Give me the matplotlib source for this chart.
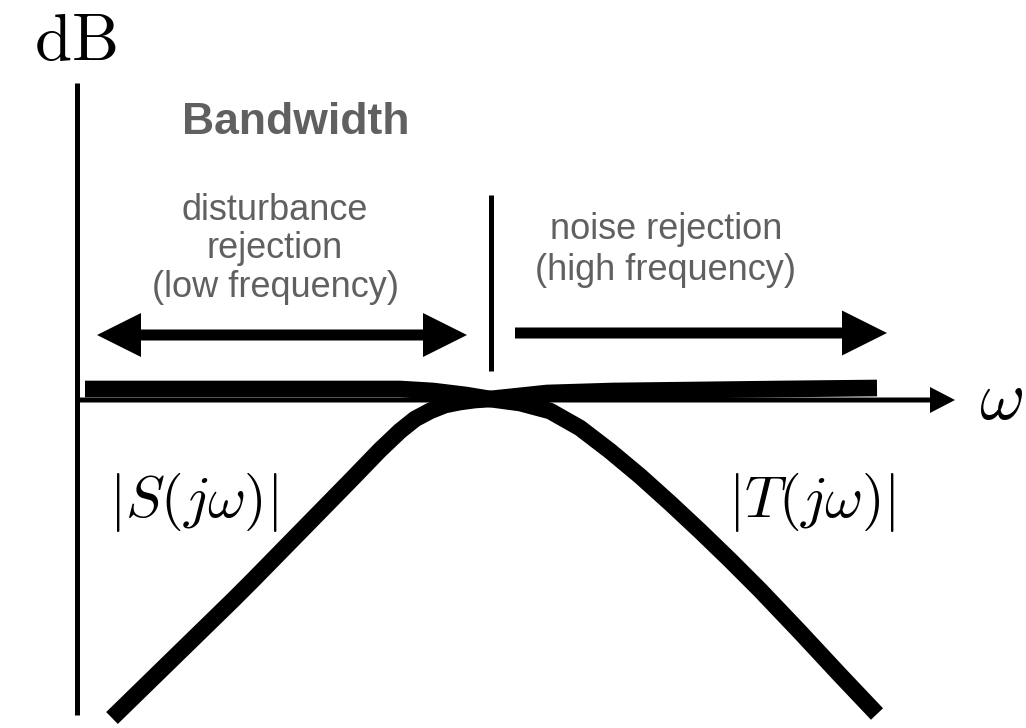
import matplotlib
matplotlib.use("Agg")
import matplotlib.pyplot as plt
from matplotlib.patches import FancyArrow

# schematic units: x = log frequency relative to crossover,
# y = gain in dB (arbitrary scale), crossover sits at (0, 0)

# |S(jw)| : rises from low frequency, flat past the crossover
s_logw = [-3.78, -2.57, -2.37, -1.39, -1.10, -0.90, -0.75, -0.60, -0.45,
          -0.30, -0.15, 0.00, 0.57, 1.23, 2.90, 3.87]
s_db = [-3.18, -2.00, -1.80, -0.80, -0.50, -0.31, -0.19, -0.11, -0.05,
        -0.02, 0.00, 0.01, 0.07, 0.09, 0.11, 0.12]

# |T(jw)| : flat at low frequency, rolls off past the crossover
t_logw = [-4.05, -0.90, -0.57, -0.24, 0.00, 0.30, 0.60, 0.90, 1.20, 1.50,
          1.80, 2.10, 2.40, 2.70, 3.10, 3.50, 3.87]
t_db = [0.11, 0.11, 0.09, 0.05, 0.01, -0.03, -0.11, -0.28, -0.51, -0.76,
        -1.03, -1.31, -1.60, -1.90, -2.32, -2.75, -3.14]

curve_labels = [r"$|S(j\omega)|$", r"$|T(j\omega)|$"]
title = "Bandwidth"
left_note = "disturbance\nrejection\n(low frequency)"
right_note = "noise rejection\n(high frequency)"

plt.rcParams["mathtext.fontset"] = "cm"

fig = plt.figure(figsize=(10.26, 7.28), dpi=100)
ax = fig.add_axes([0, 0, 1, 1])
ax.set_xlim(-4.90, 5.36)
ax.set_ylim(-3.28, 4.00)
ax.axis("off")

ink = "black"
gray = "#606060"

# axes
ax.plot([-4.13, -4.13], [-3.15, 3.17], color=ink, linewidth=3.6, solid_capstyle="butt")
ax.add_patch(FancyArrow(-4.13, 0.0, 8.78, 0.0, width=0.05, head_width=0.26,
                        head_length=0.25, length_includes_head=True, color=ink, lw=0))

# magnitude curves
for xs, ys in [(s_logw, s_db), (t_logw, t_db)]:
    ax.plot(xs, ys, color=ink, linewidth=12,
            solid_capstyle="butt", solid_joinstyle="round", zorder=3)

# bandwidth divider
ax.plot([0.01, 0.01], [0.29, 2.05], color=ink, linewidth=3.6, solid_capstyle="butt")

# low frequency double arrow (two heads drawn from the middle)
for dx in (-1.85, 1.85):
    ax.add_patch(FancyArrow(-2.08, 0.65, dx, 0.0, width=0.11, head_width=0.44,
                            head_length=0.44, length_includes_head=True, color=ink, lw=0))

# high frequency arrow
ax.add_patch(FancyArrow(0.25, 0.67, 3.72, 0.0, width=0.11, head_width=0.45,
                        head_length=0.45, length_includes_head=True, color=ink, lw=0))

# labels
ax.text(-4.15, 3.59, r"$\mathrm{dB}$", fontsize=48, ha="center", va="center")
ax.text(5.11, 0.01, r"$\omega$", fontsize=50, ha="center", va="center")
ax.text(-2.97, -1.02, curve_labels[0], fontsize=42, ha="center", va="center")
ax.text(3.22, -1.02, curve_labels[1], fontsize=42, ha="center", va="center")

sans = ["Liberation Sans", "DejaVu Sans"]
ax.text(-1.94, 2.78, title, fontsize=32, fontweight="bold", color=gray,
        ha="center", va="center", family=sans)
ax.text(-2.15, 1.51, left_note, fontsize=26, color=gray, ha="center", va="center",
        linespacing=1.12, family=sans)
ax.text(1.76, 1.50, right_note, fontsize=26, color=gray, ha="center", va="center",
        linespacing=1.25, family=sans)

fig.savefig("out.png", dpi=100)
plt.close(fig)
